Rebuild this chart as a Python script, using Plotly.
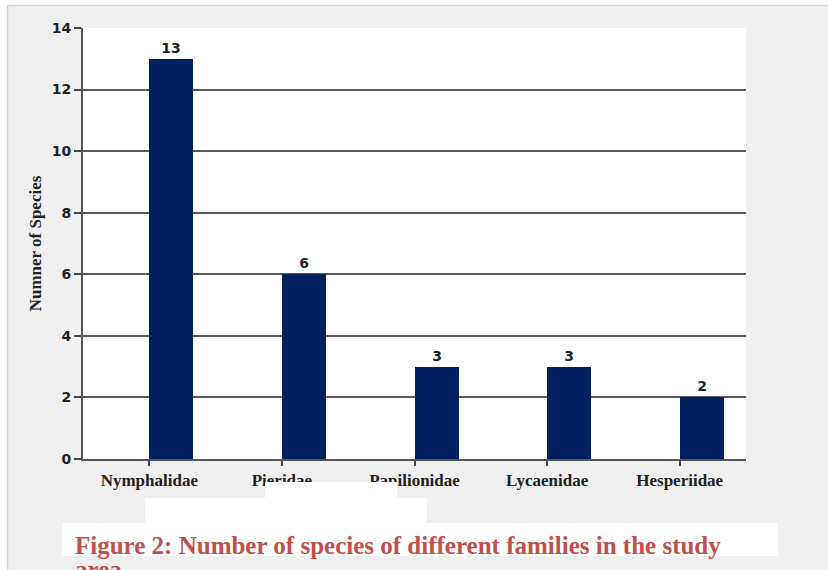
import plotly.graph_objects as go

families = ["Nymphalidae", "Pieridae", "Papilionidae", "Lycaenidae", "Hesperiidae"]
species_counts = [13, 6, 3, 3, 2]
y_ticks = [0, 2, 4, 6, 8, 10, 12, 14]
y_title = "Numner of Species"
caption_line1 = "Figure 2: Number of species of different families in the study"
caption_line2 = "area"

W, H = 828, 570
L, R, T, B = 83, 746, 28, 459  # plot area in pixels


def px_x(p):
    return (p - L) / (R - L)


def px_y(p):
    return (B - p) / (B - T)


fig = go.Figure()
fig.add_trace(go.Bar(
    x=list(range(len(families))),
    y=species_counts,
    offset=0,
    width=0.333,
    marker=dict(color="#002060", line=dict(width=0)),
    text=[str(v) for v in species_counts],
    textposition="outside",
    textfont=dict(family="DejaVu Sans", size=14, color="#222222", weight="bold"),
    cliponaxis=False,
))

shapes = []
shapes.append(dict(type="rect", xref="paper", yref="paper", x0=px_x(0), x1=px_x(W), y0=px_y(0), y1=px_y(5.5),
                   fillcolor="white", line=dict(width=0), layer="below"))
shapes.append(dict(type="rect", xref="paper", yref="paper", x0=px_x(0), x1=px_x(7.5), y0=px_y(0), y1=px_y(H),
                   fillcolor="white", line=dict(width=0), layer="below"))
shapes.append(dict(type="line", xref="paper", yref="paper", x0=px_x(7.5), x1=px_x(W), y0=px_y(5.5), y1=px_y(5.5),
                   line=dict(color="#d2d2d2", width=1.5), layer="below"))
shapes.append(dict(type="line", xref="paper", yref="paper", x0=px_x(7.5), x1=px_x(7.5), y0=px_y(5.5), y1=px_y(H),
                   line=dict(color="#d2d2d2", width=1.5), layer="below"))
for (x0, x1, y0, y1) in [(265, 397, 482, 500), (145, 427, 498, 523), (62, 778, 523, 556)]:
    shapes.append(dict(type="rect", xref="paper", yref="paper", x0=px_x(x0), x1=px_x(x1),
                       y0=px_y(y1), y1=px_y(y0), fillcolor="white", line=dict(width=0), layer="above"))

cap_font = dict(family="Liberation Serif", size=25, color="#c0504d", weight="bold")
annotations = [
    dict(text=caption_line1, xref="paper", yref="paper", x=px_x(73), y=px_y(545), xanchor="left", yanchor="middle",
         showarrow=False, font=cap_font),
    dict(text=caption_line2, xref="paper", yref="paper", x=px_x(73), y=px_y(569), xanchor="left", yanchor="middle",
         showarrow=False, font=cap_font),
]

fig.update_layout(
    width=W, height=H,
    margin=dict(l=L, r=W - R, t=T, b=H - B, pad=0),
    paper_bgcolor="#f0f0f0",
    plot_bgcolor="white",
    showlegend=False,
    shapes=shapes,
    annotations=annotations,
    bargap=0,
)
fig.update_xaxes(
    range=[-0.5, 4.5],
    tickmode="array", tickvals=list(range(len(families))), ticktext=families,
    tickson="boundaries", ticks="outside", ticklen=5, tickcolor="#444444", tickwidth=1.5,
    showline=True, linecolor="#555555", linewidth=2,
    showgrid=False,
    tickfont=dict(family="Liberation Serif", size=17, color="#222222", weight="bold"),
)
fig.update_yaxes(
    range=[0, 14],
    tickmode="array", tickvals=y_ticks,
    ticks="outside", ticklen=7, tickcolor="#444444", tickwidth=1.5,
    showline=True, linecolor="#555555", linewidth=2,
    showgrid=True, gridcolor="#5a5a5a", gridwidth=1.5,
    zeroline=False,
    tickfont=dict(family="DejaVu Sans", size=14, color="#222222", weight="bold"),
    title=dict(text=y_title, standoff=6,
               font=dict(family="Liberation Serif", size=17, color="#222222", weight="bold")),
)

fig.write_html("out.html")
